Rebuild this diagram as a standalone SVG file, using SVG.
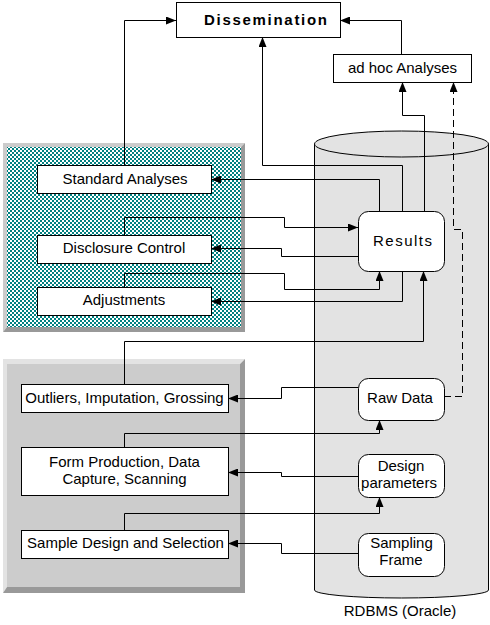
<svg xmlns="http://www.w3.org/2000/svg" width="490" height="625" viewBox="0 0 490 625">
<style>
.box{fill:#fff;stroke:#000;stroke-width:1}
.lbl{font-family:"Liberation Sans",Arial,sans-serif;font-size:15px;fill:#000;text-anchor:middle}
.conn path{fill:none;stroke:#000;stroke-width:1;marker-end:url(#arr)}
.conn path.dash{stroke-dasharray:7,4}
</style>
<defs>
<marker id="arr" markerUnits="userSpaceOnUse" markerWidth="10" markerHeight="8" refX="10" refY="4" orient="auto">
<path d="M0,0 L10,4 L0,8 Z" fill="#000"/>
</marker>
<pattern id="teal" width="4" height="4" patternUnits="userSpaceOnUse">
<rect width="4" height="4" fill="#fff"/>
<rect x="0" y="0" width="2" height="2" fill="#008080"/>
<rect x="2" y="2" width="2" height="2" fill="#008080"/>
</pattern>
</defs>

<g id="panel-analysis">
<polygon points="3,143 245,143 241,147 7,147 7,327 3,332" fill="#cccccc"/>
<polygon points="245,143 245,332 3,332 7,327 241,327 241,147" fill="#999999"/>
<rect x="7" y="147" width="234" height="180" fill="url(#teal)"/>
</g>
<g id="panel-collection">
<polygon points="3,359 245,359 240,364 7,364 7,587 3,593" fill="#e3e3e3"/>
<polygon points="245,359 245,593 3,593 7,587 240,587 240,364" fill="#999999"/>
<rect x="7" y="364" width="233" height="223" fill="#cccccc"/>
</g>
<g id="rdbms">
<path d="M314.5,144 L314.5,590 A87,8 0 0 0 488.5,590 L488.5,144" fill="#e3e3e3" stroke="#000"/>
<ellipse cx="401.5" cy="144" rx="87" ry="13" fill="#e3e3e3" stroke="#000"/>
<text class="lbl" x="400" y="616">RDBMS (Oracle)</text>
</g>

<g class="conn" id="connectors">
<path d="M124.5,165 V20.5 H176"/>
<path d="M402.5,211 V165.5 H262.5 V37"/>
<path d="M424.5,211 V115.5 H402.5 V82"/>
<path d="M401.5,54 V20.5 H340"/>
<path class="dash" d="M444,396.5 H462.5 V229.5 H453.5 V82"/>
<path d="M379.5,211 V179.5 H211"/>
<path d="M124.5,235 V217.5 H284.5 V227.5 H358"/>
<path d="M358,256.5 H281.5 V248.5 H211"/>
<path d="M124.5,287 V273.5 H284.5 V289.5 H379.5 V271"/>
<path d="M402.5,271 V301.5 H211"/>
<path d="M124.5,384 V341.5 H423.5 V271"/>
<path d="M358,387.5 H281.5 V398.5 H228"/>
<path d="M124.5,447 V433.5 H379.5 V420"/>
<path d="M358,476.5 H281.5 V472.5 H228"/>
<path d="M124.5,530 V513.5 H379.5 V497"/>
<path d="M358,553.5 H281.5 V543.5 H228"/>
</g>

<g id="dissemination">
<rect class="box" x="176.5" y="2.5" width="164" height="35"/>
<text class="lbl" x="265.5" y="25" font-weight="bold" textLength="123" lengthAdjust="spacing">Dissemination</text>
</g>
<g id="adhoc">
<rect class="box" x="333.5" y="54.5" width="138" height="28"/>
<text class="lbl" x="402.5" y="73">ad hoc Analyses</text>
</g>
<g id="standard">
<rect class="box" x="37.5" y="165.5" width="174" height="28"/>
<text class="lbl" x="125" y="184">Standard Analyses</text>
</g>
<g id="disclosure">
<rect class="box" x="37.5" y="235.5" width="174" height="28"/>
<text class="lbl" x="124" y="253">Disclosure Control</text>
</g>
<g id="adjustments">
<rect class="box" x="37.5" y="287.5" width="174" height="28"/>
<text class="lbl" x="124" y="305">Adjustments</text>
</g>
<g id="outliers">
<rect class="box" x="21.5" y="384.5" width="207" height="28"/>
<text class="lbl" x="124.5" y="403">Outliers, Imputation, Grossing</text>
</g>
<g id="form">
<rect class="box" x="21.5" y="447.5" width="207" height="48"/>
<text class="lbl" x="124.5" y="467">Form Production, Data</text>
<text class="lbl" x="124.5" y="484">Capture, Scanning</text>
</g>
<g id="sample">
<rect class="box" x="21.5" y="530.5" width="207" height="28"/>
<text class="lbl" x="125.5" y="548">Sample Design and Selection</text>
</g>
<g id="results">
<rect class="box" x="358.5" y="211.5" width="86" height="60" rx="10"/>
<text class="lbl" x="402.5" y="246" font-size="16" textLength="59" lengthAdjust="spacing">Results</text>
</g>
<g id="rawdata">
<rect class="box" x="358.5" y="378.5" width="86" height="42" rx="10"/>
<text class="lbl" x="400" y="403">Raw Data</text>
</g>
<g id="design">
<rect class="box" x="358.5" y="454.5" width="86" height="43" rx="10"/>
<text class="lbl" x="401" y="471">Design</text>
<text class="lbl" x="399" y="488">parameters</text>
</g>
<g id="frame">
<rect class="box" x="358.5" y="533.5" width="86" height="43" rx="10"/>
<text class="lbl" x="401.5" y="548">Sampling</text>
<text class="lbl" x="401" y="565">Frame</text>
</g>
</svg>
